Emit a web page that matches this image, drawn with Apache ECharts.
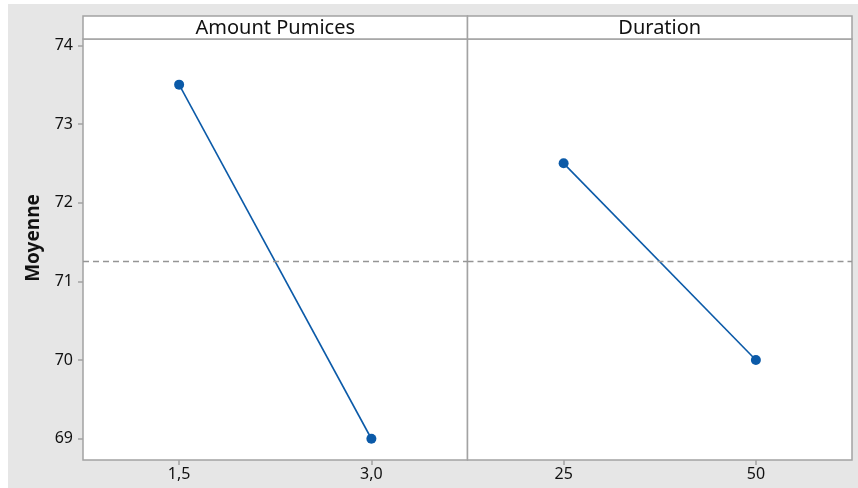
<!DOCTYPE html>
<html>
<head>
<meta charset="utf-8">
<script src="https://cdn.jsdelivr.net/npm/echarts@6/dist/echarts.min.js"></script>
<style>
  html, body { margin: 0; padding: 0; background: #ffffff; }
  #chart { width: 858px; height: 488px; }
</style>
</head>
<body>
<div id="chart"></div>
<script>
// Main effects plot: mean response for each factor level
const factorNames = ['Amount Pumices', 'Duration'];
const amountLevels = ['1,5', '3,0'];
const amountMeans = [73.5, 69.0];
const durationLevels = ['25', '50'];
const durationMeans = [72.5, 70.0];
const yTicks = [69, 70, 71, 72, 73, 74];
const yTitle = 'Moyenne';

// overall mean drawn as the dashed reference line
const allMeans = amountMeans.concat(durationMeans);
const grandMean = allMeans.reduce((a, b) => a + b, 0) / allMeans.length;

const panelTop = 39, panelBottom = 460, headerTop = 16;
const leftX = 83, midX = 467.5, rightX = 852;
const yMin = 68.73, yMax = 74.08;

const borderColor = '#a3a3a3';
const lineColor = '#0b5aa8';
const font = 'Noto Sans';

const chart = echarts.init(document.getElementById('chart'), null, { renderer: 'canvas' });

function xAxisFor(gridIndex, levels) {
  return {
    type: 'category', gridIndex: gridIndex, data: levels,
    boundaryGap: true,
    axisLine: { show: false },
    axisTick: { show: true, alignWithLabel: true, length: 5, lineStyle: { color: borderColor, width: 1.5 } },
    axisLabel: { color: '#111111', fontSize: 16, fontFamily: font, margin: 6 },
    splitLine: { show: false }
  };
}

function seriesFor(index, values) {
  return {
    type: 'line', xAxisIndex: index, yAxisIndex: index, data: values,
    symbol: 'circle', symbolSize: 10,
    itemStyle: { color: lineColor },
    lineStyle: { color: lineColor, width: 1.6 },
    silent: true, animation: false,
    markLine: {
      silent: true, symbol: 'none', animation: false,
      label: { show: false },
      lineStyle: { color: '#959595', type: [6, 4], width: 1.4 },
      data: [{ yAxis: grandMean }]
    }
  };
}

const option = {
  backgroundColor: '#e6e6e6',
  animation: false,
  grid: [
    { left: leftX, top: panelTop, width: midX - leftX, height: panelBottom - panelTop,
      show: true, backgroundColor: '#ffffff', borderColor: borderColor, borderWidth: 1.5 },
    { left: midX, top: panelTop, width: rightX - midX, height: panelBottom - panelTop,
      show: true, backgroundColor: '#ffffff', borderColor: borderColor, borderWidth: 1.5 }
  ],
  xAxis: [xAxisFor(0, amountLevels), xAxisFor(1, durationLevels)],
  yAxis: [
    {
      type: 'value', gridIndex: 0, min: yMin, max: yMax,
      axisLine: { show: false },
      axisTick: { show: true, length: 5, customValues: yTicks, lineStyle: { color: borderColor, width: 1.5 } },
      axisLabel: { color: '#111111', fontSize: 16, fontFamily: font, margin: 10, customValues: yTicks },
      splitLine: { show: false }
    },
    {
      type: 'value', gridIndex: 1, min: yMin, max: yMax,
      axisLine: { show: false }, axisTick: { show: false },
      axisLabel: { show: false }, splitLine: { show: false }
    }
  ],
  series: [seriesFor(0, amountMeans), seriesFor(1, durationMeans)],
  graphic: [
    // thin white margin along the left and top edges
    { type: 'rect', shape: { x: 0, y: 0, width: 8, height: 488 }, style: { fill: '#ffffff' }, silent: true },
    { type: 'rect', shape: { x: 0, y: 0, width: 858, height: 4 }, style: { fill: '#ffffff' }, silent: true },
    // facet header strips
    { type: 'rect', shape: { x: leftX, y: headerTop, width: midX - leftX, height: panelTop - headerTop },
      style: { fill: '#ffffff', stroke: borderColor, lineWidth: 1.5 }, silent: true },
    { type: 'rect', shape: { x: midX, y: headerTop, width: rightX - midX, height: panelTop - headerTop },
      style: { fill: '#ffffff', stroke: borderColor, lineWidth: 1.5 }, silent: true },
    { type: 'text', x: (leftX + midX) / 2, y: (headerTop + panelTop) / 2 + 0.5,
      style: { text: factorNames[0], fill: '#111111', font: '20px "' + font + '"', textAlign: 'center', textVerticalAlign: 'middle' }, silent: true },
    { type: 'text', x: (midX + rightX) / 2, y: (headerTop + panelTop) / 2 + 0.5,
      style: { text: factorNames[1], fill: '#111111', font: '20px "' + font + '"', textAlign: 'center', textVerticalAlign: 'middle' }, silent: true },
    // y-axis title, centred on the panel including its header
    { type: 'text', x: 33.5, y: (headerTop + panelBottom) / 2, rotation: Math.PI / 2,
      style: { text: yTitle, fill: '#111111', font: 'bold 19px "' + font + '"', textAlign: 'center', textVerticalAlign: 'middle' }, silent: true }
  ]
};

chart.setOption(option);
</script>
</body>
</html>
